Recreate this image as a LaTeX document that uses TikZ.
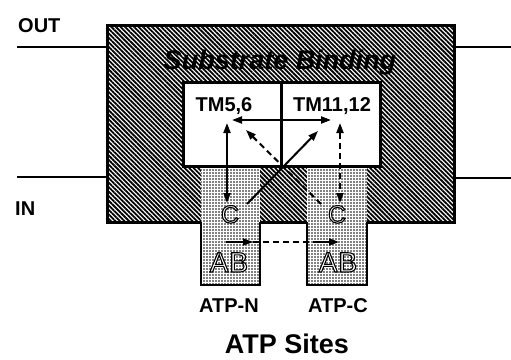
\documentclass[tikz,border=0pt]{standalone}
\usepackage{fontspec}
\setmainfont{Liberation Sans}
\usetikzlibrary{patterns.meta,arrows.meta}
\newcommand{\outlinetext}[1]{\special{pdf:literal direct 2 Tr 1.1 w 1 g 0 G}#1\special{pdf:literal direct 0 Tr 0 g}}
\begin{document}
\begin{tikzpicture}[x=1pt,y=-1pt,
  lbl/.style={font=\bfseries\fontsize{20}{24}\selectfont, inner sep=0pt},
  outl/.style={font=\fontsize{25}{30}\selectfont, inner sep=0pt, anchor=base},
  mem/.style={line width=1.4pt},
  hatchbox/.style={draw, line width=3pt, inner sep=0pt, outer sep=0pt, anchor=north west,
     preaction={fill=white}, pattern={Lines[angle=-45,distance=3.2pt,line width=1.8pt]}},
  dotbox/.style={inner sep=0pt, outer sep=0pt, anchor=north west,
     preaction={fill=white}, pattern={Dots[distance=3pt,radius=0.85pt]}},
  tip/.style={line width=2pt, -{Triangle[length=10pt,width=7pt]}},
  dtip/.style={line width=2pt, {Triangle[length=10pt,width=7pt]}-{Triangle[length=10pt,width=7pt]}},
  dsh/.style={dash pattern=on 6pt off 4pt}
]
\useasboundingbox (0,0) rectangle (511,359);
% membrane lines
\coordinate (ol1) at (17,47);  \coordinate (ol2) at (107,47);
\coordinate (or1) at (454,47); \coordinate (or2) at (511,47);
\coordinate (il1) at (17,177); \coordinate (il2) at (107,177);
\coordinate (ir1) at (454,178); \coordinate (ir2) at (511,178);
\draw[mem] (ol1) -- (ol2);
\draw[mem] (or1) -- (or2);
\draw[mem] (il1) -- (il2);
\draw[mem] (ir1) -- (ir2);
\node[lbl, anchor=base west] (out) at (18,32) {OUT};
\node[lbl, anchor=base west] (in) at (15,215) {IN};
% big hatched box
\node[hatchbox, minimum width=347pt, minimum height=197pt] (sb) at (107,25) {};
% ATP columns
\node[dotbox, minimum width=59pt, minimum height=119pt] (colN) at (201,166) {};
\node[dotbox, minimum width=60pt, minimum height=119pt] (colC) at (307,166) {};
\draw[line width=2.5pt] (colN.west |- sb.south) -- (colN.south west) -- (colN.south east) -- (colN.east |- sb.south);
\draw[line width=2.5pt] (colC.west |- sb.south) -- (colC.south west) -- (colC.south east) -- (colC.east |- sb.south);
% TM box
\node[draw, fill=white, line width=3pt, inner sep=0pt, outer sep=0pt, anchor=north west,
      minimum width=197pt, minimum height=84pt] (tm) at (183,82) {};
\draw[line width=3pt] (tm.north) -- (tm.south);
% labels
\node[font=\bfseries\itshape\fontsize{27}{32}\selectfont, inner sep=0pt, anchor=base] (sbl) at (280,69) {Substrate Binding};
\node[lbl, anchor=base] (tm56) at (224,111) {TM5,6};
\node[lbl, anchor=base] (tm1112) at (332,111) {TM11,12};
\node[lbl, anchor=base] (atpn) at (229,312) {ATP-N};
\node[lbl, anchor=base] (atpc) at (338,312) {ATP-C};
\node[font=\bfseries\fontsize{27}{32}\selectfont, inner sep=0pt, anchor=base] (sites) at (287,353) {ATP Sites};
\node[outl] (cN) at (230,223) {\outlinetext{C}};
\node[outl] (cC) at (337,223) {\outlinetext{C}};
\node[outl, font=\fontsize{28}{32}\selectfont] (abN) at (229,272) {\outlinetext{A\kern1pt B}};
\node[outl, font=\fontsize{28}{32}\selectfont] (abC) at (338,272) {\outlinetext{A\kern1pt B}};
% arrows
\coordinate (v1a) at (227,123); \coordinate (v1b) at (227,203);
\coordinate (h1a) at (232,120); \coordinate (h1b) at (331,120);
\coordinate (v2a) at (340,123); \coordinate (v2b) at (340,203);
\coordinate (s1a) at (247,204); \coordinate (s1b) at (318,131);
\coordinate (d1a) at (321,204); \coordinate (d1b) at (246,130);
\draw[dtip] (v1a) -- (v1b);
\draw[dtip] (h1a) -- (h1b);
\draw[dtip, dsh] (v2a) -- (v2b);
\draw[tip] (s1a) -- (s1b);
\draw[tip, dsh] (d1a) -- (d1b);
\coordinate (n1) at (226,242); \coordinate (n2) at (253,242);
\coordinate (c1) at (316,242); \coordinate (c2) at (339,242);
\draw[tip] (n1) -- (n2);
\draw[line width=1.5pt, dsh] (n2) -- (c1);
\draw[tip] (c1) -- (c2);
\end{tikzpicture}
\end{document}
